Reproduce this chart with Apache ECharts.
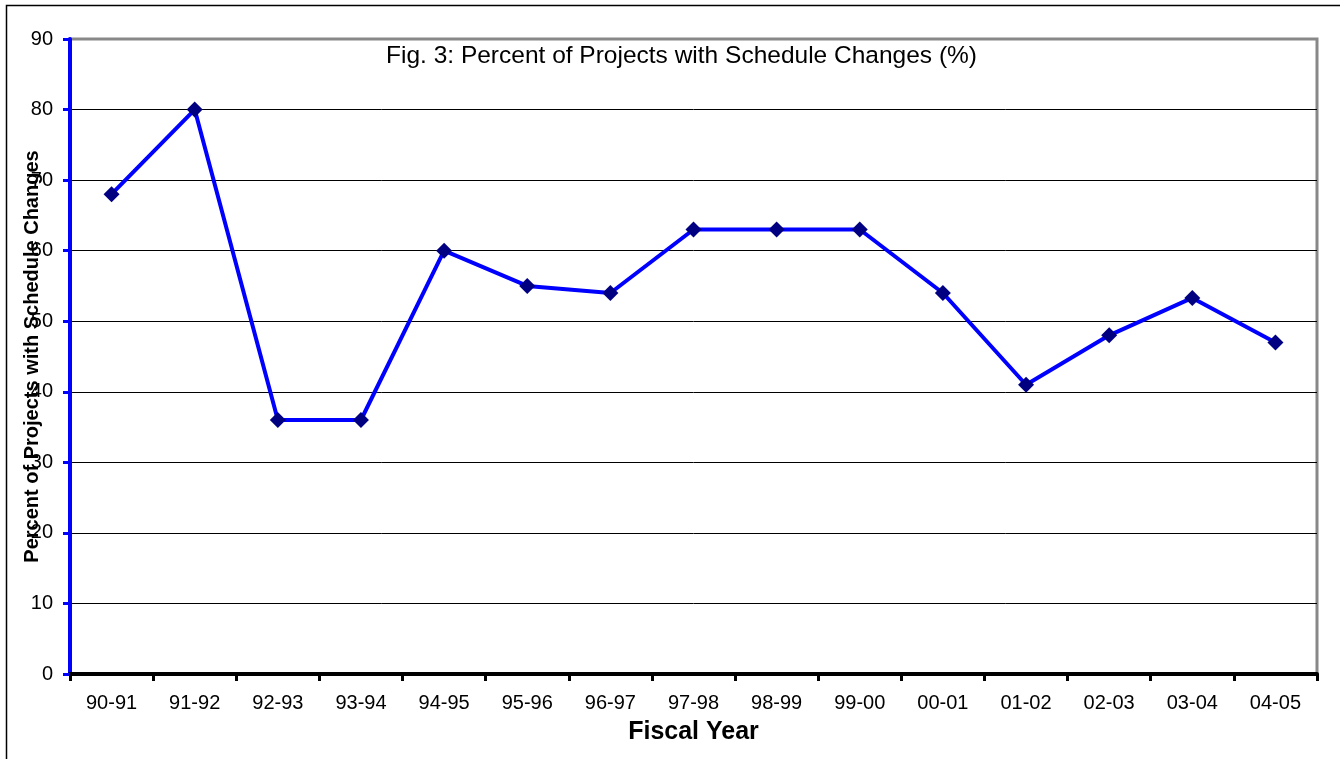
<!DOCTYPE html>
<html>
<head>
<meta charset="utf-8">
<script src="https://cdn.jsdelivr.net/npm/echarts@6/dist/echarts.min.js"></script>
<style>
  html, body { margin: 0; padding: 0; background: #fff; }
  #chart { width: 1340px; height: 759px; }
</style>
</head>
<body>
<div id="chart"></div>
<script>
const years = ['90-91', '91-92', '92-93', '93-94', '94-95', '95-96', '96-97', '97-98',
    '98-99', '99-00', '00-01', '01-02', '02-03', '03-04', '04-05']
const percent = [68, 80, 36, 36, 60, 55, 54, 63, 63, 63, 54, 41, 48, 53.3, 47]

const font = 'Liberation Sans, Arial, sans-serif'
const chart = echarts.init(document.getElementById('chart'))

chart.setOption({
    animation: false,
    title: {
        text: 'Fig. 3: Percent of Projects with Schedule Changes (%)',
        left: 381,
        top: 39,
        textStyle: { fontFamily: font, fontSize: 24.5, fontWeight: 'normal', color: '#000' }
    },
    graphic: [{
        type: 'rect',
        shape: { x: 6.5, y: 5.5, width: 1400, height: 800 },
        style: { fill: 'none', stroke: '#000', lineWidth: 1.5 },
        silent: true
    }],
    grid: {
        left: 70,
        right: 23,
        top: 39,
        bottom: 85,
        outerBoundsMode: 'none',
        containLabel: false,
        show: true,
        borderColor: '#888',
        borderWidth: 3,
        backgroundColor: '#fff'
    },
    xAxis: {
        type: 'category',
        data: years,
        boundaryGap: true,
        name: 'Fiscal Year',
        nameLocation: 'middle',
        nameGap: 46,
        nameMoveOverlap: false,
        nameTextStyle: { fontFamily: font, fontSize: 25, fontWeight: 'bold', color: '#000' },
        axisLine: { lineStyle: { color: '#000', width: 4 } },
        axisTick: { show: true, length: 7, lineStyle: { color: '#000', width: 3 } },
        axisLabel: { fontFamily: font, fontSize: 20, color: '#000', margin: 19 },
        splitLine: { show: false }
    },
    yAxis: {
        type: 'value',
        min: 0,
        max: 90,
        interval: 10,
        name: 'Percent of Projects with Schedule Changes',
        nameLocation: 'middle',
        nameGap: 28,
        nameMoveOverlap: false,
        nameTextStyle: { fontFamily: font, fontSize: 20, fontWeight: 'bold', color: '#000' },
        axisLine: { show: true, lineStyle: { color: '#0000ff', width: 4 } },
        axisTick: { show: true, length: 7, lineStyle: { color: '#0000ff', width: 3 } },
        axisLabel: { fontFamily: font, fontSize: 20, color: '#000', margin: 17 },
        splitLine: {
            show: true,
            lineStyle: {
                color: ['#000', '#000', '#000', '#000', '#000', '#000', '#000', '#000', '#000', '#888'],
                width: 1
            }
        }
    },
    series: [{
        type: 'line',
        data: percent,
        symbol: 'diamond',
        symbolSize: 16,
        itemStyle: { color: '#000080' },
        lineStyle: { color: '#0000ff', width: 4 }
    }]
})
</script>
</body>
</html>
